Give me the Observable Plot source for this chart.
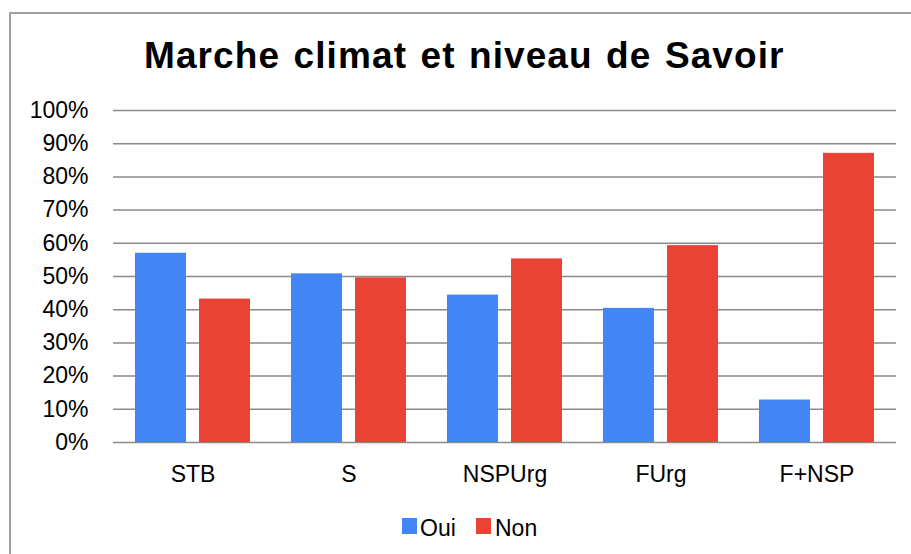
<!DOCTYPE html>
<html>
<head>
<meta charset="utf-8">
<script src="https://cdn.jsdelivr.net/npm/d3@7"></script>
<script src="https://cdn.jsdelivr.net/npm/@observablehq/plot@0.6"></script>
<style>
  html, body { margin: 0; padding: 0; background: #fff; overflow: hidden; }
  #chart { position: relative; width: 911px; height: 554px; font-family: "Liberation Sans", Arial, sans-serif; color: #000; }
  #frame { position: absolute; left: 9px; top: 12px; width: 950px; height: 600px; border-left: 2px solid #a0a0a0; border-top: 2px solid #a0a0a0; box-sizing: border-box; }
  #title { position: absolute; left: 144px; top: 37px; font-size: 37px; line-height: 1; font-weight: bold; letter-spacing: 1.1px; word-spacing: 2px; white-space: nowrap; }
  #plot { position: absolute; left: 0; top: 95px; }
  .sw { position: absolute; width: 15px; height: 16px; top: 518px; }
  .lt { position: absolute; top: 517px; font-size: 23px; line-height: 1; white-space: nowrap; }
</style>
</head>
<body>
<div id="chart">
  <div id="frame"></div>
  <div id="title">Marche climat et niveau de Savoir</div>
  <div id="plot"></div>
  <div id="legend"></div>
</div>
<script>
const categories = ["STB", "S", "NSPUrg", "FUrg", "F+NSP"];
const series = ["Oui", "Non"];
const seriesColors = ["#4285f4", "#ea4335"];
const oui = [57.0, 50.8, 44.4, 40.4, 12.8];
const non = [43.2, 49.6, 55.3, 59.3, 87.1];
const yTicks = [0, 10, 20, 30, 40, 50, 60, 70, 80, 90, 100];

const data = categories.flatMap((c, i) => [
  {category: c, series: "Oui", value: oui[i]},
  {category: c, series: "Non", value: non[i]}
]);

const chart = Plot.plot({
  width: 911,
  height: 400,
  marginTop: 15,
  marginBottom: 53,
  marginLeft: 113,
  marginRight: 15,
  style: {fontFamily: "'Liberation Sans', Arial, sans-serif", fontSize: "23px", color: "#000", background: "transparent"},
  x: {domain: categories, paddingInner: 0.26, paddingOuter: 0.13, label: null, tickSize: 0, tickPadding: 23},
  y: {domain: [0, 100], ticks: yTicks, tickFormat: d => d + "%", label: null, tickSize: 0, tickPadding: 25},
  color: {domain: series, range: seriesColors},
  marks: [
    Plot.ruleY(yTicks, {stroke: "#8a8a8a", strokeWidth: 1.5}),
    Plot.barY(data.filter(d => d.series === "Oui"), {x: "category", y: "value", fill: "series", insetRight: 64}),
    Plot.barY(data.filter(d => d.series === "Non"), {x: "category", y: "value", fill: "series", insetLeft: 64})
  ]
});
document.getElementById("plot").appendChild(chart);

const legend = document.getElementById("legend");
const legendPos = [[402, 421], [476, 496]];
series.forEach((s, i) => {
  const sw = document.createElement("div");
  sw.className = "sw";
  sw.style.left = legendPos[i][0] + "px";
  sw.style.background = seriesColors[i];
  legend.appendChild(sw);
  const t = document.createElement("div");
  t.className = "lt";
  t.style.left = (legendPos[i][1] - 1) + "px";
  t.textContent = s;
  legend.appendChild(t);
});
</script>
</body>
</html>
